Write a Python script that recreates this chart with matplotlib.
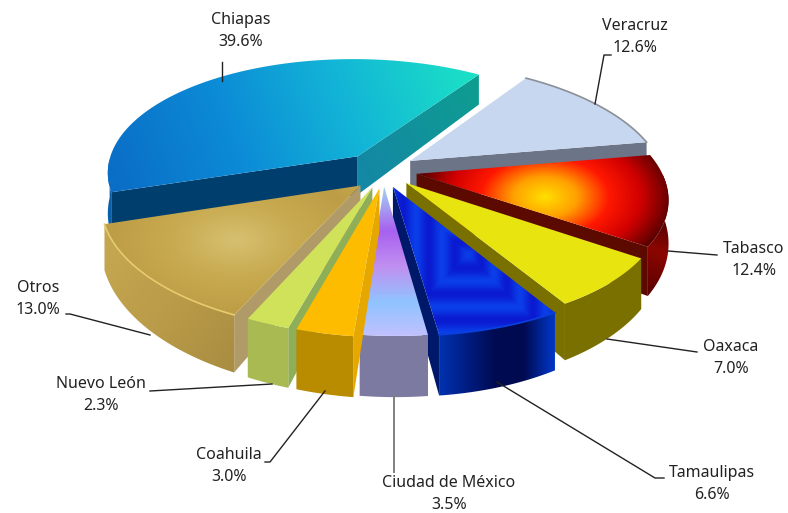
from matplotlib import pyplot as plt
from matplotlib.colors import LinearSegmentedColormap, to_rgb
from matplotlib.patches import PathPatch
from matplotlib.path import Path
import numpy as np

plt.rcParams['font.family'] = ['Noto Sans', 'DejaVu Sans']

states = ['Chiapas', 'Otros', 'Nuevo León', 'Coahuila', 'Ciudad de México',
          'Tamaulipas', 'Oaxaca', 'Tabasco', 'Veracruz']
shares = [39.6, 13.0, 2.3, 3.0, 3.5, 6.6, 7.0, 12.4, 12.6]

# pie geometry, in pixels of the figure
cx, cy = 380, 170
R = 252
k = 0.467
persp = 0.167
shear = 0.035
depth = 40
explode = 37
start = 55
# slices that sit a little off the common radius / position in the original
radius_scale = {'Tabasco': 0.97, 'Oaxaca': 0.975}
nudge = {'Otros': (8, 4), 'Nuevo León': (5, 1), 'Coahuila': (6, 1),
         'Ciudad de México': (3, -1)}


def cm(*colors):
    return LinearSegmentedColormap.from_list('c', colors)


def project(X, Y, drop=0.0):
    s = 1 / (1 + persp * Y / R)
    return cx + (X - shear * Y) * s, cy - k * Y * s + drop * s * s


def shade(ax, px, py, func):
    x0, x1 = int(px.min()) - 1, int(px.max()) + 2
    y0, y1 = int(py.min()) - 1, int(py.max()) + 2
    xx, yy = np.meshgrid(np.arange(x0, x1) + 0.5, np.arange(y0, y1) + 0.5)
    im = ax.imshow(func(xx, yy), extent=(x0, x1, y1, y0), aspect='auto',
                   interpolation='bilinear', zorder=ax.zcount)
    verts = np.column_stack([np.append(px, px[0]), np.append(py, py[0])])
    im.set_clip_path(PathPatch(Path(verts, closed=True), transform=ax.transData))
    ax.zcount += 1


def flat(color):
    rgb = np.array(to_rgb(color))
    return lambda xx, yy: np.ones(xx.shape + (3,)) * rgb


def linear(cmap, x0, y0, x1, y1):
    def f(xx, yy):
        dx, dy = x1 - x0, y1 - y0
        t = ((xx - x0) * dx + (yy - y0) * dy) / (dx * dx + dy * dy)
        return cmap(np.clip(t, 0, 1))[..., :3]
    return f


def radial(cmap, x0, y0, rx, ry):
    def f(xx, yy):
        t = np.hypot((xx - x0) / rx, (yy - y0) / ry)
        return cmap(np.clip(t, 0, 1))[..., :3]
    return f


def squares(x0, y0, a, b, c1, c2, bands):
    def f(xx, yy):
        t = np.maximum(np.abs(xx - x0) / a, np.abs(yy - y0) / b)
        w = 0.5 + 0.5 * np.cos(t * bands * 2 * np.pi)
        return cm(c1, c2)(w)[..., :3]
    return f


tops = {
    'Chiapas': linear(cm('#0a6ec6', '#0c8ad6', '#13b6d6', '#1be0c6'), 120, 200, 470, 70),
    'Otros': radial(cm('#d6c070', '#c8aa50', '#bd9e46', '#c8ae58'), 235, 240, 190, 110),
    'Nuevo León': flat('#cfe25a'),
    'Coahuila': flat('#fdbc00'),
    'Ciudad de México': linear(cm('#a4c0f2', '#a860f0', '#c090f0', '#90c4ff', '#c4c0ff'), 383, 195, 383, 338),
    'Tamaulipas': squares(468, 255, 78, 78, '#0a1ad0', '#0a3ee8', 3.0),
    'Oaxaca': flat('#e8e410'),
    'Tabasco': radial(cm('#ffe000', '#ffa000', '#ff1800', '#d00000', '#5a0000'), 545, 197, 128, 80),
    'Veracruz': flat('#c6d7ef'),
}
outer_walls = {
    'Chiapas': flat('#0a5fa8'),
    'Otros': linear(cm('#c4a650', '#b89a48', '#a88c40'), 110, 260, 240, 370),
    'Nuevo León': flat('#a9bb52'),
    'Coahuila': flat('#b98c00'),
    'Ciudad de México': flat('#7c7aa2'),
    'Tamaulipas': linear(cm('#0032b0', '#001c80', '#000a50', '#000a50', '#0034c0'), 440, 340, 552, 340),
    'Oaxaca': flat('#7a7000'),
    'Tabasco': linear(cm('#500000', '#8c0600', '#300000'), 640, 300, 670, 200),
    'Veracruz': flat('#6c7488'),
}
start_walls = {
    'Chiapas': linear(cm('#1488a4', '#0e9c92'), 365, 170, 478, 100),
    'Otros': flat('#b09a68'),
    'Nuevo León': flat('#8fae58'),
    'Coahuila': flat('#e6a800'),
    'Ciudad de México': flat('#7c7aa2'),
    'Tamaulipas': flat('#00186a'),
    'Oaxaca': flat('#7a7000'),
    'Tabasco': flat('#5c0a00'),
    'Veracruz': flat('#6c7488'),
}
end_walls = {
    'Chiapas': flat('#003e6e'),
    'Otros': flat('#b09a68'),
    'Nuevo León': flat('#8fae58'),
    'Coahuila': flat('#e6a800'),
    'Ciudad de México': flat('#7c7aa2'),
    'Tamaulipas': flat('#00186a'),
    'Oaxaca': flat('#7a7000'),
    'Tabasco': flat('#5c0a00'),
    'Veracruz': flat('#6c7488'),
}
rims = {'Veracruz': '#8a9098', 'Otros': '#e6cc70', 'Tamaulipas': '#0a40e0'}

# label text centre and leader polyline, figure pixels
label_pos = {
    'Chiapas': (241, 31), 'Veracruz': (635, 37), 'Tabasco': (754, 260),
    'Oaxaca': (731, 358), 'Tamaulipas': (712, 484), 'Ciudad de México': (449, 494),
    'Coahuila': (229, 466), 'Nuevo León': (101, 395), 'Otros': (38, 299),
}
leaders = {
    'Chiapas': ([222, 222], [62, 81], '#222222'),
    'Veracruz': ([595, 604, 611], [104, 55, 55], '#222222'),
    'Tabasco': ([668, 717], [251, 255], '#222222'),
    'Oaxaca': ([607, 697], [339, 352], '#222222'),
    'Tamaulipas': ([497, 655, 664], [382, 478, 478], '#222222'),
    'Ciudad de México': ([394, 394], [395, 472], '#808080'),
    'Coahuila': ([325, 270, 265], [391, 462, 462], '#222222'),
    'Nuevo León': ([272, 150], [384, 391], '#222222'),
    'Otros': ([150, 70, 66], [335, 314, 314], '#222222'),
}

fig = plt.figure(figsize=(7.88, 5.13), dpi=100)
ax = fig.add_axes([0, 0, 1, 1])
ax.zcount = 1

angles = np.array(shares) / sum(shares) * 360
t0s = start + np.concatenate([[0], np.cumsum(angles)[:-1]])

order = ['Chiapas', 'Veracruz', 'Tabasco', 'Oaxaca', 'Tamaulipas',
         'Ciudad de México', 'Otros', 'Nuevo León', 'Coahuila']

for name in order:
    i = states.index(name)
    t0 = t0s[i]
    t1 = t0 + angles[i]
    mid = np.radians((t0 + t1) / 2)
    r = R * radius_scale.get(name, 1.0)
    ox, oy = explode * np.cos(mid), explode * np.sin(mid)
    t = np.radians(np.linspace(t0, t1, 80))
    X = ox + r * np.cos(t)
    Y = oy + r * np.sin(t)
    nx, ny = nudge.get(name, (0, 0))

    ax_, ay_ = project(ox, oy)
    bx_, by_ = project(ox, oy, depth)
    tx, ty = project(X, Y)
    dx, dy = project(X, Y, depth)
    ax_, bx_, tx, dx = ax_ + nx, bx_ + nx, tx + nx, dx + nx
    ay_, by_, ty, dy = ay_ + ny, by_ + ny, ty + ny, dy + ny

    # only the faces that look towards the viewer
    if np.sin(np.radians(t0 - 90)) < 0:
        shade(ax, np.array([ax_, tx[0], dx[0], bx_]), np.array([ay_, ty[0], dy[0], by_]), start_walls[name])
    if np.sin(np.radians(t1 + 90)) < 0:
        shade(ax, np.array([ax_, tx[-1], dx[-1], bx_]), np.array([ay_, ty[-1], dy[-1], by_]), end_walls[name])
    front = np.sin(t) < 0
    if front.sum() > 1:
        shade(ax, np.concatenate([tx[front], dx[front][::-1]]),
              np.concatenate([ty[front], dy[front][::-1]]), outer_walls[name])

    shade(ax, np.append(ax_, tx), np.append(ay_, ty), tops[name])
    if name in rims:
        ax.plot(tx, ty, color=rims[name], lw=1.2, zorder=ax.zcount)
        ax.zcount += 1

for name in states:
    xs, ys, col = leaders[name]
    ax.plot(xs, ys, color=col, lw=1.0 if col != '#808080' else 1.4, zorder=500)
    x, y = label_pos[name]
    val = shares[states.index(name)]
    ax.text(x, y, f"{name}\n{val:.1f}%", ha='center', va='center', fontsize=11.5,
            color='#222222', linespacing=1.42, zorder=501)

ax.set_xlim(0, 788)
ax.set_ylim(513, 0)
ax.axis('off')
fig.savefig('out.png', dpi=100)
